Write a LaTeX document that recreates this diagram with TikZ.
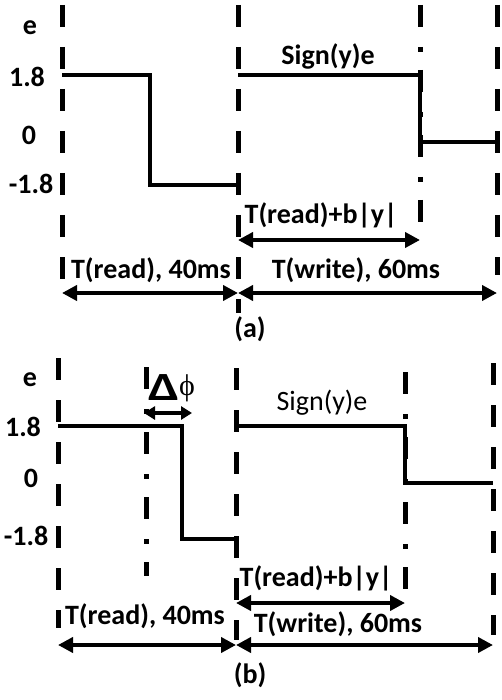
\documentclass[tikz,border=0pt]{standalone}
\usepackage{fontspec}
\setmainfont{Carlito}
\newfontfamily\phifont{Liberation Serif}
\usetikzlibrary{arrows.meta}
\begin{document}
\begin{tikzpicture}[x=1pt,y=-1pt,
  sig/.style={line width=4.5pt, line join=miter},
  vdash/.style={line width=5pt, dash pattern=on 22pt off 20pt},
  vdashdot/.style={line width=5pt, dash pattern=on 22pt off 20pt on 5pt off 18pt},
  dimarrow/.style={line width=4pt, {Triangle[length=15pt,width=15pt]}-{Triangle[length=15pt,width=15pt]}},
  smallarrow/.style={line width=4pt, {Triangle[length=11pt,width=13pt]}-{Triangle[length=11pt,width=13pt]}},
  lbl/.style={font=\fontsize{28}{30}\selectfont\bfseries, inner sep=0pt},
  lbln/.style={font=\fontsize{28}{30}\selectfont, inner sep=0pt}]
\useasboundingbox (0,0) rectangle (502,700);

% ---------------- panel (a) ----------------
\coordinate (aL1) at (62,5);   \coordinate (aL2) at (62,282);
\coordinate (aM1) at (238,5);  \coordinate (aM2) at (238,313);
\coordinate (aD1) at (420,5);  \coordinate (aD2) at (420,222);
\coordinate (aR1) at (497,5);  \coordinate (aR2) at (497,275);
\draw[vdash] (aL1) -- (aL2);
\draw[vdash] (aM1) -- (aM2);
\draw[vdashdot] (aD1) -- (aD2);
\draw[vdash] (aR1) -- (aR2);

\coordinate (as1) at (62,75);  \coordinate (as2) at (150,75);
\coordinate (as3) at (150,185); \coordinate (as4) at (238,185);
\draw[sig] (as1) -- (as2) -- (as3) -- (as4);
\coordinate (as5) at (238,75); \coordinate (as6) at (420,75);
\coordinate (as7) at (420,142); \coordinate (as8) at (497,142);
\draw[sig] (as5) -- (as6) -- (as7) -- (as8);

\node[lbl] (ae) at (30,28) {e};
\node[lbl] (a18) at (27,77) {1.8};
\node[lbl] (a0) at (29,135) {0};
\node[lbl] (am18) at (31,184) {-1.8};
\node[lbl] (asign) at (328,56) {Sign(y)e};
\node[lbl] (atrb) at (321,215) {T(read)+b|y|};
\coordinate (aA1) at (238,240); \coordinate (aA2) at (420,240);
\draw[dimarrow] (aA1) -- (aA2);
\node[lbl] (atr) at (151,270) {T(read), 40ms};
\node[lbl] (atw) at (356,270) {T(write), 60ms};
\coordinate (aB1) at (62,293); \coordinate (aB2) at (238,293); \coordinate (aB3) at (497,293);
\draw[dimarrow] (aB1) -- (aB2);
\draw[dimarrow] (aB2) -- (aB3);
\node[lbl] (acap) at (250,329) {(a)};

% ---------------- panel (b) ----------------
\coordinate (bL1) at (58,358);  \coordinate (bL2) at (58,628);
\coordinate (bP1) at (146,367); \coordinate (bP2) at (146,576);
\coordinate (bM1) at (236,368); \coordinate (bM2) at (236,640);
\coordinate (bD1) at (405,372); \coordinate (bD2) at (405,589);
\coordinate (bR1) at (493,363); \coordinate (bR2) at (493,635);
\draw[vdash] (bL1) -- (bL2);
\draw[vdashdot] (bP1) -- (bP2);
\draw[vdash] (bM1) -- (bM2);
\draw[vdashdot] (bD1) -- (bD2);
\draw[vdash] (bR1) -- (bR2);

\coordinate (bs1) at (58,426);  \coordinate (bs2) at (182,426);
\coordinate (bs3) at (182,539); \coordinate (bs4) at (236,539);
\draw[sig] (bs1) -- (bs2) -- (bs3) -- (bs4);
\coordinate (bs5) at (236,426); \coordinate (bs6) at (405,426);
\coordinate (bs7) at (405,483); \coordinate (bs8) at (493,483);
\draw[sig] (bs5) -- (bs6) -- (bs7) -- (bs8);

\node[font=\fontsize{40}{40}\selectfont\bfseries, inner sep=0pt, xscale=1.35] (bdelta) at (164,388) {Δ};
\node[font=\fontsize{30}{30}\selectfont\phifont, inner sep=0pt] (bphi) at (187,388) {ϕ};
\coordinate (bC1) at (144,413); \coordinate (bC2) at (192,413);
\draw[smallarrow] (bC1) -- (bC2);

\node[lbl] (be) at (30,380) {e};
\node[lbl] (b18) at (23,427) {1.8};
\node[lbl] (b0) at (31,478) {0};
\node[lbl] (bm18) at (26,536) {-1.8};
\node[lbln] (bsign) at (322,403) {Sign(y)e};
\node[lbl] (btrb) at (316,578) {T(read)+b|y|};
\coordinate (bA1) at (236,603); \coordinate (bA2) at (405,603);
\draw[dimarrow] (bA1) -- (bA2);
\node[lbl] (btr) at (145,616) {T(read), 40ms};
\node[lbl] (btw) at (338,624) {T(write), 60ms};
\coordinate (bB1) at (58,645); \coordinate (bB2) at (236,645); \coordinate (bB3) at (493,645);
\draw[dimarrow] (bB1) -- (bB2);
\draw[dimarrow] (bB2) -- (bB3);
\node[lbl] (bcap) at (250,675) {(b)};
\end{tikzpicture}
\end{document}
